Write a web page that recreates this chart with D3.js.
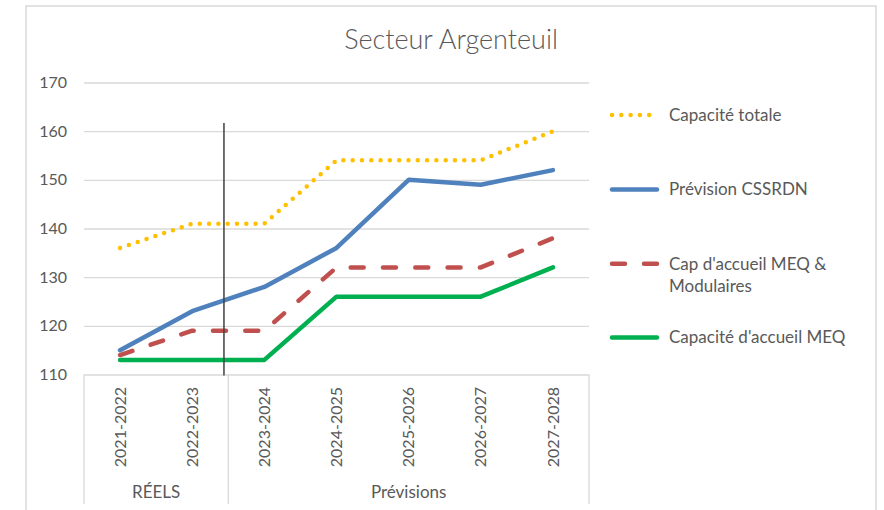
<!DOCTYPE html>
<html>
<head>
<meta charset="utf-8">
<script src="https://cdn.jsdelivr.net/npm/d3@7"></script>
<style>
  body { margin: 0; background: #fff; }
  svg { display: block; }
  text { font-family: Lato, "Open Sans", sans-serif; fill: #595959; }
</style>
</head>
<body>
<svg id="chart" width="884" height="510"></svg>
<script>
// School years on the category axis
const categories = ["2021-2022", "2022-2023", "2023-2024", "2024-2025", "2025-2026", "2026-2027", "2027-2028"];
// Outer category groups and how many years each spans
const groupLabels = ["RÉELS", "Prévisions"];
const groupSizes = [2, 5];
// Value axis ticks
const yTicks = [110, 120, 130, 140, 150, 160, 170];

// Series
const capaciteTotale = [136, 141, 141, 154, 154, 154, 160];
const previsionCSSRDN = [115, 123, 128, 136, 150, 149, 152];
const capAccueilModulaires = [114, 119, 119, 132, 132, 132, 138];
const capaciteAccueilMEQ = [113, 113, 113, 126, 126, 126, 132];

// Marker line between actuals and forecasts: top value
const separatorTop = 161.7;

const title = "Secteur Argenteuil";

const series = [
  { name: "Capacité totale", lines: ["Capacité totale"], values: capaciteTotale, color: "#FFC000", dash: "0 9.3" },
  { name: "Prévision CSSRDN", lines: ["Prévision CSSRDN"], values: previsionCSSRDN, color: "#4F81BD", dash: null },
  { name: "Cap d'accueil MEQ & Modulaires", lines: ["Cap d'accueil MEQ &", "Modulaires"], values: capAccueilModulaires, color: "#C0504D", dash: "13 19.3" },
  { name: "Capacité d'accueil MEQ", lines: ["Capacité d'accueil MEQ"], values: capaciteAccueilMEQ, color: "#00B050", dash: null }
];

const svg = d3.select("#chart");
const numSize = 16;
const wordSize = 17;
const plot = { left: 84, right: 589, top: 82.5, bottom: 374.5 };

// Chart frame
svg.append("rect")
  .attr("x", 26).attr("y", 6).attr("width", 850).attr("height", 520)
  .attr("fill", "#fff").attr("stroke", "#D9D9D9").attr("stroke-width", 1.5);

// Title
svg.append("text")
  .attr("x", 451).attr("y", 49)
  .attr("text-anchor", "middle")
  .style("font-size", "27px").style("font-weight", 300)
  .text(title);

const x = d3.scaleBand().domain(categories).range([plot.left, plot.right]);
const cx = c => x(c) + x.bandwidth() / 2;
const y = d3.scaleLinear().domain([110, 170]).range([plot.bottom, plot.top]);

// Gridlines
const grid = svg.append("g")
  .attr("transform", `translate(${plot.left},0)`)
  .call(d3.axisLeft(y).tickValues(yTicks.slice(1)).tickSize(-(plot.right - plot.left)).tickFormat(""));
grid.select(".domain").remove();
grid.selectAll("line").attr("stroke", "#D9D9D9").attr("stroke-width", 1.3);

// Value axis labels
const yAxis = svg.append("g")
  .attr("transform", `translate(67,0)`)
  .call(d3.axisLeft(y).tickValues(yTicks).tickSize(0).tickPadding(0));
yAxis.select(".domain").remove();
yAxis.selectAll("text")
  .style("font-size", numSize + "px")
  .style("font-family", "Lato, sans-serif")
  .attr("fill", "#595959");

// Category axis line
svg.append("line")
  .attr("x1", plot.left).attr("x2", plot.right)
  .attr("y1", y(110) + 0.5).attr("y2", y(110) + 0.5)
  .attr("stroke", "#D9D9D9").attr("stroke-width", 1.3);

// Category labels (rotated)
const xAxis = svg.append("g")
  .attr("transform", `translate(0,${y(110)})`)
  .call(d3.axisBottom(x).tickSize(0));
xAxis.select(".domain").remove();
xAxis.selectAll("text")
  .style("font-size", numSize + "px")
  .style("font-family", "Lato, sans-serif")
  .attr("fill", "#595959")
  .attr("transform", "rotate(-90)")
  .attr("text-anchor", "end")
  .attr("x", -12.5)
  .attr("y", 0)
  .attr("dy", "0.35em");

// Group separators and group labels
let start = 0;
const bounds = [0];
groupSizes.forEach(n => { start += n; bounds.push(start); });
const edgeX = i => i < categories.length ? x(categories[i]) : plot.right;
bounds.forEach(b => {
  svg.append("line")
    .attr("x1", edgeX(b)).attr("x2", edgeX(b))
    .attr("y1", y(110)).attr("y2", 504)
    .attr("stroke", "#D9D9D9").attr("stroke-width", 1.3);
});
groupLabels.forEach((g, i) => {
  svg.append("text")
    .attr("x", (edgeX(bounds[i]) + edgeX(bounds[i + 1])) / 2)
    .attr("y", 492)
    .attr("dy", "0.35em")
    .attr("text-anchor", "middle")
    .style("font-size", wordSize + "px")
    .text(g);
});

// Series lines
const line = d3.line().x((d, i) => cx(categories[i])).y(d => y(d));
series.forEach(s => {
  svg.append("path")
    .datum(s.values)
    .attr("d", line)
    .attr("fill", "none")
    .attr("stroke", s.color)
    .attr("stroke-width", 4.5)
    .attr("stroke-linejoin", "round")
    .attr("stroke-linecap", "round")
    .attr("stroke-dasharray", s.dash);
});

// Separator between actual years and forecasts
const sepX = cx(categories[1]) + x.step() * 0.44;
svg.append("line")
  .attr("x1", sepX).attr("x2", sepX)
  .attr("y1", y(separatorTop)).attr("y2", y(110) + 1)
  .attr("stroke", "#404040").attr("stroke-width", 1.5);

// Legend
const legendY = [115, 189.5, 263.7, 337.5];
const legend = svg.append("g");
series.forEach((s, i) => {
  const g = legend.append("g").attr("transform", `translate(0,${legendY[i]})`);
  g.append("line")
    .attr("x1", 612).attr("x2", 657)
    .attr("y1", 0).attr("y2", 0)
    .attr("stroke", s.color)
    .attr("stroke-width", 4.5)
    .attr("stroke-linecap", "round")
    .attr("stroke-dasharray", s.dash === "13 19.3" ? "13 19" : s.dash);
  s.lines.forEach((t, j) => {
    g.append("text")
      .attr("x", 669).attr("y", j * 22.5)
      .attr("dy", "0.35em")
      .style("font-size", wordSize + "px")
      .text(t);
  });
});
</script>
</body>
</html>
